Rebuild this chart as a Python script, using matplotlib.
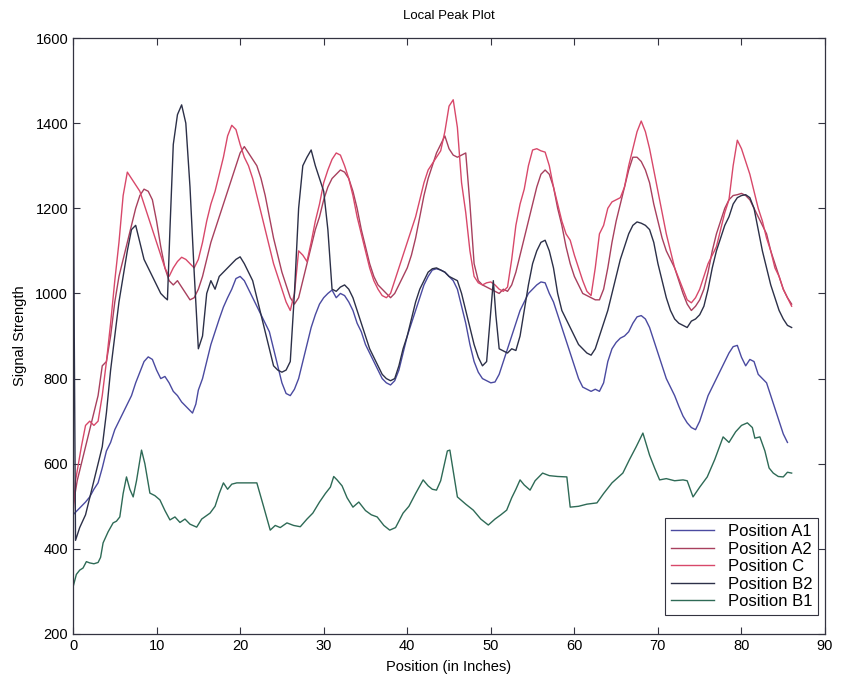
import matplotlib
matplotlib.use("Agg")
import matplotlib.pyplot as plt

plt.rcParams['font.family'] = ['Liberation Sans', 'DejaVu Sans']

title = "Local Peak Plot"
xlabel = "Position (in Inches)"
ylabel = "Signal Strength"
labels = ["Position A1", "Position A2", "Position C", "Position B2", "Position B1"]
xticks = [0, 10, 20, 30, 40, 50, 60, 70, 80, 90]
yticks = [200, 400, 600, 800, 1000, 1200, 1400, 1600]

# Position A1 (lower blue trace)
a1_x = [0, 0.5, 1, 1.5, 2, 2.5, 3, 3.5, 4, 4.5, 5, 5.5, 6, 6.5, 7, 7.5, 8, 8.5, 9, 9.5,
        10, 10.5, 11, 11.5, 12, 12.5, 13, 13.5, 14, 14.3, 14.7, 15, 15.5, 16, 16.5, 17, 17.5, 18, 18.5, 19,
        19.5, 20, 20.5, 21, 21.5, 22, 22.5, 23, 23.5, 24, 24.5, 25, 25.5, 26, 26.5, 27, 27.5, 28, 28.5, 29,
        29.5, 30, 30.5, 31, 31.5, 32, 32.5, 33, 33.5, 34, 34.5, 35, 35.5, 36, 36.5, 37, 37.5, 38, 38.5, 39,
        39.5, 40, 40.5, 41, 41.5, 42, 42.5, 43, 43.5, 44, 44.5, 45, 45.5, 46, 46.5, 47, 47.5, 48, 48.5, 49,
        49.5, 50, 50.5, 51, 51.5, 52, 52.5, 53, 53.5, 54, 54.5, 55, 55.5, 56, 56.5, 57, 57.5, 58, 58.5, 59,
        59.5, 60, 60.5, 61, 61.5, 62, 62.5, 63, 63.5, 64, 64.5, 65, 65.5, 66, 66.5, 67, 67.5, 68, 68.5, 69,
        69.5, 70, 70.5, 71, 71.5, 72, 72.5, 73, 73.5, 74, 74.5, 75, 75.5, 76, 76.5, 77, 77.5, 78, 78.5, 79,
        79.5, 80, 80.5, 81, 81.5, 82, 82.5, 83, 83.5, 84, 84.5, 85, 85.5]
a1_y = [480, 490, 500, 510, 522, 540, 555, 590, 630, 650, 680, 700, 720, 740, 760, 790, 815, 840, 851, 845,
        820, 800, 805, 790, 770, 760, 745, 735, 725, 719, 740, 773, 800, 840, 880, 910, 940, 968, 990, 1010,
        1035, 1040, 1030, 1010, 990, 970, 950, 930, 910, 870, 830, 790, 765, 760, 775, 800, 840, 880, 920, 950,
        975, 990, 1000, 1008, 990, 1000, 995, 980, 960, 930, 910, 880, 860, 840, 820, 800, 790, 785, 795, 820,
        860, 900, 930, 960, 990, 1020, 1040, 1055, 1058, 1055, 1050, 1040, 1030, 1010, 970, 930, 880, 840, 815, 800,
        795, 790, 792, 810, 840, 870, 900, 930, 960, 980, 1000, 1010, 1020, 1027, 1025, 1000, 980, 950, 920, 890,
        860, 830, 800, 780, 775, 770, 775, 770, 790, 840, 870, 885, 895, 900, 910, 930, 945, 948, 940, 920,
        890, 860, 830, 800, 780, 760, 735, 712, 696, 685, 680, 700, 730, 760, 780, 800, 820, 840, 860, 875,
        878, 850, 830, 845, 840, 810, 800, 790, 760, 730, 700, 670, 650]

# Position A2 (darker red trace)
a2_x = [0, 0.5, 1, 1.5, 2, 2.5, 3, 3.5, 4, 4.5, 5, 5.5, 6, 6.5, 7, 7.5, 8, 8.5, 9, 9.5,
        10, 10.5, 11, 11.5, 12, 12.5, 13, 13.5, 14, 14.5, 15, 15.5, 16, 16.5, 17, 17.5, 18, 18.5, 19, 19.5,
        20, 20.5, 21, 21.5, 22, 22.5, 23, 23.5, 24, 24.5, 25, 25.5, 26, 26.5, 27, 27.5, 28, 28.5, 29, 29.5,
        30, 30.5, 31, 31.5, 32, 32.5, 33, 33.5, 34, 34.5, 35, 35.5, 36, 36.5, 37, 37.5, 38, 38.5, 39, 39.5,
        40, 40.5, 41, 41.5, 42, 42.5, 43, 43.5, 44, 44.5, 45, 45.5, 46, 46.5, 47, 47.5, 48, 48.5, 49, 49.5,
        50, 50.5, 51, 51.5, 52, 52.5, 53, 53.5, 54, 54.5, 55, 55.5, 56, 56.5, 57, 57.5, 58, 58.5, 59, 59.5,
        60, 60.5, 61, 61.5, 62, 62.5, 63, 63.5, 64, 64.5, 65, 65.5, 66, 66.5, 67, 67.5, 68, 68.5, 69, 69.5,
        70, 70.5, 71, 71.5, 72, 72.5, 73, 73.5, 74, 74.5, 75, 75.5, 76, 76.5, 77, 77.5, 78, 78.5, 79, 79.5,
        80, 80.5, 81, 81.5, 82, 82.5, 83, 83.5, 84, 84.5, 85, 85.5, 86]
a2_y = [500, 560, 600, 640, 680, 720, 760, 830, 840, 900, 980, 1040, 1080, 1120, 1160, 1200, 1230, 1245, 1240, 1220,
        1170, 1110, 1060, 1030, 1020, 1030, 1015, 1000, 985, 990, 1010, 1040, 1080, 1120, 1150, 1180, 1210, 1240, 1270, 1300,
        1330, 1345, 1330, 1315, 1300, 1270, 1230, 1180, 1130, 1090, 1050, 1020, 990, 975, 990, 1030, 1070, 1110, 1150, 1180,
        1220, 1250, 1270, 1280, 1290, 1285, 1270, 1240, 1200, 1150, 1110, 1070, 1040, 1020, 1010, 1000, 990, 1000, 1020, 1040,
        1060, 1090, 1130, 1180, 1230, 1270, 1300, 1330, 1350, 1370, 1340, 1325, 1320, 1325, 1330, 1210, 1070, 1030, 1020, 1015,
        1010, 1005, 1000, 1010, 1005, 1020, 1050, 1090, 1130, 1170, 1210, 1250, 1280, 1290, 1280, 1250, 1200, 1160, 1110, 1070,
        1040, 1020, 1000, 995, 990, 985, 985, 1010, 1060, 1120, 1170, 1210, 1250, 1290, 1320, 1320, 1310, 1290, 1260, 1210,
        1170, 1130, 1100, 1080, 1060, 1030, 1000, 975, 960, 970, 985, 1010, 1050, 1100, 1140, 1170, 1200, 1220, 1230, 1232,
        1235, 1230, 1220, 1200, 1180, 1160, 1140, 1100, 1070, 1040, 1010, 990, 975]

# Position C (brighter red trace)
c_x = [0, 0.3, 1, 1.5, 2, 2.5, 3, 3.5, 4, 4.5, 5, 5.5, 6, 6.5, 7, 7.5, 8, 8.5, 9, 9.5,
       10, 10.5, 11, 11.5, 12, 12.5, 13, 13.5, 14, 14.5, 15, 15.5, 16, 16.5, 17, 17.5, 18, 18.5, 19, 19.5,
       20, 20.5, 21, 21.5, 22, 22.5, 23, 23.5, 24, 24.5, 25, 25.5, 26, 26.5, 27, 27.5, 28, 28.5, 29, 29.5,
       30, 30.5, 31, 31.5, 32, 32.5, 33, 33.5, 34, 34.5, 35, 35.5, 36, 36.5, 37, 37.5, 38, 38.5, 39, 39.5,
       40, 40.5, 41, 41.5, 42, 42.5, 43, 43.5, 44, 44.5, 45, 45.5, 46, 46.5, 47, 47.5, 48, 48.5, 49, 49.5,
       50, 50.5, 51, 51.5, 52, 52.5, 53, 53.5, 54, 54.5, 55, 55.5, 56, 56.5, 57, 57.5, 58, 58.5, 59, 59.5,
       60, 60.5, 61, 61.5, 62, 62.5, 63, 63.5, 64, 64.5, 65, 65.5, 66, 66.5, 67, 67.5, 68, 68.5, 69, 69.5,
       70, 70.5, 71, 71.5, 72, 72.5, 73, 73.5, 74, 74.5, 75, 75.5, 76, 76.5, 77, 77.5, 78, 78.5, 79, 79.5,
       80, 80.5, 81, 81.5, 82, 82.5, 83, 83.5, 84, 84.5, 85, 85.5, 86]
c_y = [480, 560, 640, 690, 700, 690, 700, 760, 840, 930, 1030, 1120, 1230, 1285, 1270, 1255, 1240, 1210, 1180, 1150,
       1120, 1090, 1060, 1040, 1060, 1075, 1085, 1080, 1070, 1060, 1080, 1120, 1170, 1210, 1240, 1280, 1320, 1370, 1395, 1385,
       1350, 1320, 1300, 1270, 1230, 1190, 1150, 1110, 1070, 1040, 1010, 980, 960, 1000, 1100, 1090, 1075, 1120, 1170, 1210,
       1260, 1290, 1315, 1330, 1325, 1300, 1270, 1230, 1180, 1140, 1100, 1060, 1030, 1010, 995, 990, 1000, 1030, 1060, 1090,
       1120, 1150, 1180, 1220, 1260, 1290, 1305, 1320, 1335, 1380, 1440, 1455, 1390, 1260, 1190, 1100, 1040, 1025, 1020, 1025,
       1027, 1020, 1010, 1005, 1015, 1080, 1160, 1210, 1245, 1300, 1337, 1340, 1335, 1332, 1300, 1250, 1210, 1170, 1140, 1125,
       1090, 1060, 1030, 1005, 995, 1060, 1140, 1160, 1200, 1215, 1220, 1225, 1250, 1300, 1340, 1380, 1405, 1380, 1340, 1290,
       1240, 1190, 1140, 1100, 1060, 1035, 1010, 985, 978, 990, 1010, 1040, 1070, 1090, 1110, 1150, 1190, 1220, 1300, 1360,
       1340, 1310, 1280, 1240, 1200, 1170, 1130, 1100, 1060, 1040, 1010, 990, 970]

# Position B2 (dark trace with sharp spikes)
b2_x = [0, 0.15, 0.3, 0.8, 1.5, 2, 2.5, 3, 3.5, 4, 4.5, 5, 5.5, 6, 6.5, 7, 7.5, 8, 8.5, 9,
        9.5, 10, 10.5, 11, 11.3, 11.6, 12, 12.5, 13, 13.5, 14, 14.5, 15, 15.5, 16, 16.5, 17, 17.5, 18, 18.5,
        19, 19.5, 20, 20.5, 21, 21.5, 22, 22.5, 23, 23.5, 24, 24.5, 25, 25.5, 26, 26.5, 27, 27.5, 28, 28.5,
        29, 29.5, 30, 30.5, 31, 31.5, 32, 32.5, 33, 33.5, 34, 34.5, 35, 35.5, 36, 36.5, 37, 37.5, 38, 38.5,
        39, 39.5, 40, 40.5, 41, 41.5, 42, 42.5, 43, 43.5, 44, 44.5, 45, 45.5, 46, 46.5, 47, 47.5, 48, 48.5,
        49, 49.5, 50, 50.3, 50.6, 51, 51.5, 52, 52.5, 53, 53.5, 54, 54.5, 55, 55.5, 56, 56.5, 57, 57.5, 58,
        58.5, 59, 59.5, 60, 60.5, 61, 61.5, 62, 62.5, 63, 63.5, 64, 64.5, 65, 65.5, 66, 66.5, 67, 67.5, 68,
        68.5, 69, 69.5, 70, 70.5, 71, 71.5, 72, 72.5, 73, 73.5, 74, 74.5, 75, 75.5, 76, 76.5, 77, 77.5, 78,
        78.5, 79, 79.5, 80, 80.5, 81, 81.5, 82, 82.5, 83, 83.5, 84, 84.5, 85, 85.5, 86]
b2_y = [1560, 900, 420, 450, 480, 520, 560, 600, 640, 720, 820, 900, 980, 1040, 1100, 1150, 1160, 1120, 1080, 1060,
        1040, 1020, 1000, 990, 985, 1150, 1350, 1420, 1443, 1400, 1250, 1050, 870, 900, 1000, 1030, 1010, 1040, 1050, 1060,
        1070, 1080, 1086, 1070, 1050, 1030, 990, 950, 910, 870, 830, 820, 815, 820, 840, 1000, 1200, 1300, 1320, 1337,
        1300, 1270, 1240, 1150, 1010, 1005, 1015, 1020, 1010, 990, 960, 930, 900, 870, 850, 830, 810, 800, 795, 800,
        830, 870, 900, 940, 980, 1010, 1030, 1050, 1058, 1060, 1055, 1050, 1040, 1035, 1030, 1000, 960, 920, 880, 850,
        830, 840, 960, 1030, 950, 870, 865, 860, 870, 866, 900, 960, 1020, 1070, 1100, 1120, 1125, 1100, 1060, 1000,
        960, 940, 920, 900, 880, 870, 860, 855, 870, 900, 930, 960, 1000, 1040, 1080, 1110, 1140, 1160, 1168, 1165,
        1160, 1150, 1120, 1070, 1030, 990, 960, 940, 930, 925, 920, 935, 940, 950, 970, 1010, 1060, 1100, 1130, 1160,
        1180, 1210, 1225, 1230, 1232, 1225, 1200, 1150, 1100, 1060, 1020, 990, 960, 940, 925, 920]

# Position B1 (green trace)
b1_x = [0, 0.4, 0.8, 1.2, 1.6, 2, 2.5, 3, 3.3, 3.6, 4.2, 4.8, 5.2, 5.6, 6, 6.4, 6.8, 7.2, 7.6, 8.2,
        8.6, 9.2, 9.8, 10.4, 11, 11.6, 12.2, 12.8, 13.4, 14, 14.8, 15.4, 16.4, 17, 17.5, 18, 18.5, 19, 19.6, 20.5,
        21.3, 22, 22.8, 23.6, 24.2, 24.8, 25.6, 26.4, 27.2, 28, 28.7, 29.5, 30.2, 30.8, 31.2, 31.6, 32.2, 32.8, 33.5, 34.2,
        35, 35.7, 36.4, 37.2, 37.9, 38.6, 39.5, 40.2, 41, 41.9, 42.5, 43, 43.5, 44, 44.8, 45.1, 45.6, 46, 47, 47.9,
        48.8, 49.7, 50.5, 51.2, 51.9, 52.5, 53, 53.5, 54, 54.7, 55.3, 56.2, 57, 58, 59.1, 59.5, 60.5, 61.5, 62.7, 63.5,
        64.5, 65.8, 66.6, 67.4, 68.2, 69, 69.6, 70.2, 71, 72, 73, 73.5, 74.2, 75, 75.9, 76.8, 77.8, 78.5, 79.3, 80,
        80.7, 81.3, 81.6, 82.2, 82.8, 83.3, 83.8, 84.4, 85, 85.5, 86]
b1_y = [310, 340, 350, 355, 370, 367, 365, 368, 380, 414, 440, 461, 465, 475, 530, 569, 540, 522, 560, 632,
        600, 531, 525, 515, 490, 468, 475, 462, 470, 458, 451, 470, 484, 500, 530, 555, 540, 552, 555, 555,
        555, 555, 500, 444, 455, 450, 461, 455, 452, 470, 484, 510, 530, 545, 570, 562, 548, 520, 498, 510,
        490, 480, 475, 455, 444, 450, 484, 500, 530, 562, 548, 540, 538, 560, 630, 632, 570, 522, 505, 491,
        470, 456, 470, 480, 491, 520, 540, 562, 550, 538, 560, 578, 572, 570, 569, 498, 500, 505, 508, 530,
        555, 578, 610, 640, 672, 620, 590, 562, 565, 560, 562, 560, 522, 545, 569, 610, 663, 650, 675, 690,
        696, 685, 660, 663, 630, 590, 578, 570, 569, 580, 578]

series = [
    (a1_x, a1_y, labels[0], '#4a4aa0'),
    (a2_x, a2_y, labels[1], '#a8405e'),
    (c_x, c_y, labels[2], '#d8486a'),
    (b2_x, b2_y, labels[3], '#2c3048'),
    (b1_x, b1_y, labels[4], '#2e6a56'),
]

fig = plt.figure(figsize=(8.45, 6.84), dpi=100)
ax = fig.add_axes([0.0864, 0.0731, 0.890, 0.8713])

for xs, ys, lab, col in series:
    ax.plot(xs, ys, color=col, lw=1.0, label=lab)

ax.set_xlim(0, 90)
ax.set_ylim(200, 1600)
ax.set_xticks(xticks)
ax.set_yticks(yticks)
ax.tick_params(direction='in', length=5, top=True, right=True, labelsize=10.5,
               color='#333340', width=0.8)
for sp in ax.spines.values():
    sp.set_color('#333340')
    sp.set_linewidth(0.9)

ax.set_title(title, fontsize=9.5, pad=14)
ax.set_xlabel(xlabel, fontsize=10.5, labelpad=5)
ax.set_ylabel(ylabel, fontsize=10.5, labelpad=6)

leg = ax.legend(loc='lower right', bbox_to_anchor=(0.991, 0.032), fontsize=12,
                frameon=True, fancybox=False, shadow=False, framealpha=1,
                edgecolor='#333340', handlelength=2.6, labelspacing=0.15,
                borderpad=0.35, handletextpad=0.8, borderaxespad=0)
leg.get_frame().set_linewidth(0.8)

fig.savefig('out.png', dpi=100)
